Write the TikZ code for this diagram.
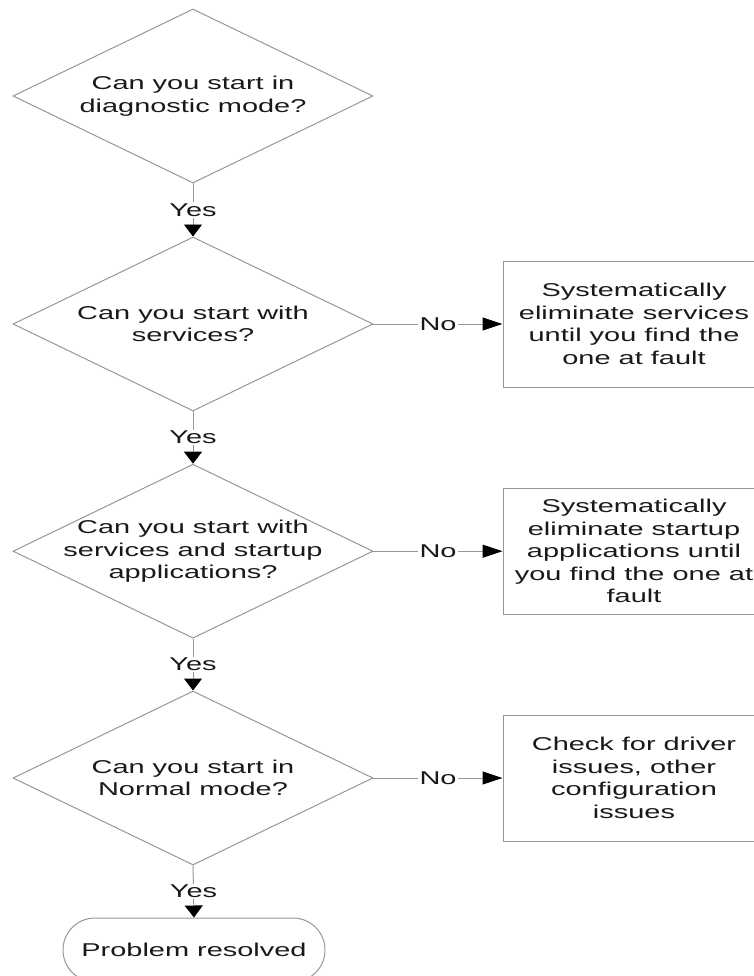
\documentclass[tikz,border=0pt]{standalone}
\usepackage{fontspec}
\setmainfont{Liberation Sans}[FakeStretch=1.56]
\usetikzlibrary{arrows.meta,positioning,shapes.geometric}
\definecolor{fcgray}{RGB}{150,150,150}
\definecolor{fctext}{RGB}{25,25,25}

\begin{document}
\begin{tikzpicture}[
    font=\fontsize{13.2pt}{16pt}\selectfont,
    text=fctext,
    qbox/.style={diamond, draw=fcgray, line width=0.7pt,
                 minimum width=9cm, minimum height=4.35cm, inner sep=0pt},
    qtext/.style={align=center, inner sep=0pt},
    actbox/.style={rectangle, draw=fcgray, line width=0.7pt,
                   minimum width=6.55cm, minimum height=3.15cm, align=center},
    endbox/.style={rectangle, rounded corners=0.8cm, draw=fcgray, line width=0.7pt,
                   minimum width=6.55cm, minimum height=1.6cm},
    yarr/.style={-{Triangle[length=0.3cm, width=0.45cm, black]}, draw=fcgray, line width=0.7pt},
    narr/.style={-{Triangle[length=0.5cm, width=0.325cm, black]}, draw=fcgray, line width=0.7pt},
    lbl/.style={fill=white, inner sep=1pt}
  ]
    \useasboundingbox (0,0) rectangle (18.825,-24.4);

    % Questions
    \node[qbox, label={[qtext]center:Can you start in\\diagnostic mode?}] (q1) at (4.825, -2.4) {};
    \node[qbox, label={[qtext]center:Can you start with\\services?}] (q2) at (4.825, -8.1) {};
    \node[qbox, label={[qtext]center:Can you start with\\services and startup\\applications?}] (q3) at (4.825, -13.78) {};
    \node[qbox, label={[qtext]center:Can you start in\\Normal mode?}] (q4) at (4.825, -19.45) {};

    % Actions on No
    \node[actbox] (a1) at (15.85, -8.1)
      {Systematically\\eliminate services\\until you find the\\one at fault};
    \node[actbox] (a2) at (15.85, -13.78)
      {Systematically\\eliminate startup\\applications until\\you find the one at\\fault};
    \node[actbox] (a3) at (15.85, -19.45)
      {Check for driver\\issues, other\\configuration\\issues};

    % End
    \node[endbox] (done) at (4.85, -23.75) {Problem resolved};

    % Yes path
    \draw[yarr] (q1.south) -- node[lbl] {Yes} (q2.north);
    \draw[yarr] (q2.south) -- node[lbl] {Yes} (q3.north);
    \draw[yarr] (q3.south) -- node[lbl] {Yes} (q4.north);
    \draw[yarr] (q4.south) -- node[lbl] {Yes} (done.north);

    % No branches
    \draw[narr] (q2.east) -- node[lbl] {No} (a1.west);
    \draw[narr] (q3.east) -- node[lbl] {No} (a2.west);
    \draw[narr] (q4.east) -- node[lbl] {No} (a3.west);
  \end{tikzpicture}
\end{document}
